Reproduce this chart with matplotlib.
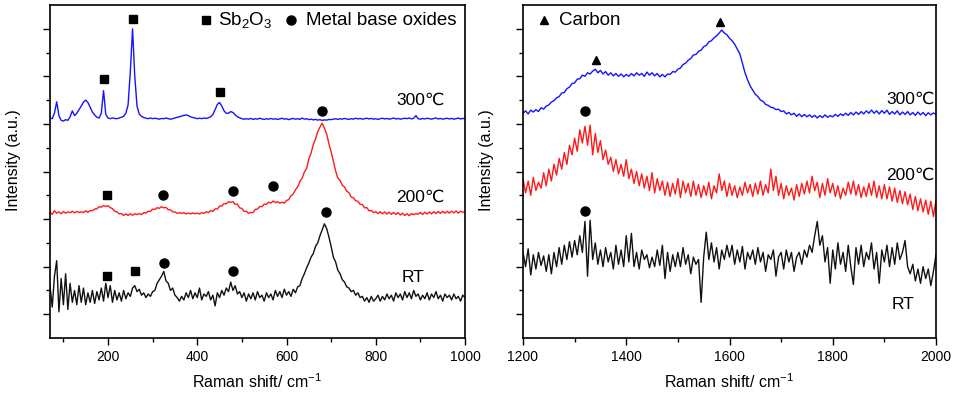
import numpy as np
import matplotlib
matplotlib.use("Agg")
import matplotlib.pyplot as plt
from matplotlib.ticker import NullFormatter

plt.rcParams['font.family'] = ['Liberation Sans', 'DejaVu Sans']
plt.rcParams['mathtext.fontset'] = 'custom'
plt.rcParams['mathtext.rm'] = 'Liberation Sans'

# ---------------- Left panel data (Raman shift 70-1000 cm-1, step 5) ----------------
left_start, left_step = 70, 5
left_300C = [
    9.25, 9.22, 9.45, 9.93, 9.35, 9.15, 9.12, 9.18, 9.15, 9.3,
    9.55, 9.35, 9.45, 9.6, 9.75, 9.92, 10.0, 9.9, 9.7, 9.5,
    9.38, 9.28, 9.25, 9.45, 10.4, 9.4, 9.25, 9.22, 9.25, 9.23,
    9.22, 9.25, 9.28, 9.32, 9.45, 9.8, 11.2, 13.0, 11.0, 9.75,
    9.42, 9.32, 9.27, 9.24, 9.22, 9.25, 9.22, 9.24, 9.22, 9.2,
    9.23, 9.22, 9.25, 9.22, 9.2, 9.22, 9.25, 9.28, 9.3, 9.33,
    9.36, 9.38, 9.35, 9.3, 9.27, 9.25, 9.22, 9.24, 9.22, 9.25,
    9.23, 9.26, 9.3, 9.4, 9.6, 9.82, 9.9, 9.75, 9.55, 9.45,
    9.45, 9.52, 9.48, 9.38, 9.3, 9.26, 9.22, 9.2, 9.22, 9.2,
    9.23, 9.19, 9.22, 9.2, 9.24, 9.21, 9.19, 9.22, 9.2, 9.23,
    9.2, 9.22, 9.19, 9.21, 9.24, 9.2, 9.22, 9.18, 9.21, 9.23,
    9.2, 9.22, 9.19, 9.25, 9.2, 9.22, 9.18, 9.2, 9.17, 9.19,
    9.16, 9.18, 9.15, 9.17, 9.16, 9.19, 9.18, 9.2, 9.22, 9.19,
    9.22, 9.2, 9.23, 9.21, 9.19, 9.22, 9.2, 9.24, 9.21, 9.23,
    9.2, 9.22, 9.24, 9.21, 9.23, 9.2, 9.22, 9.19, 9.22, 9.24,
    9.21, 9.23, 9.2, 9.22, 9.25, 9.21, 9.23, 9.2, 9.22, 9.24,
    9.22, 9.25, 9.21, 9.24, 9.35, 9.22, 9.2, 9.23, 9.21, 9.24,
    9.22, 9.2, 9.23, 9.25, 9.21, 9.23, 9.2, 9.22, 9.24, 9.21,
    9.23, 9.2, 9.22, 9.25, 9.21, 9.23, 9.22,
]
left_200C = [
    5.3, 5.2, 5.35, 5.25, 5.3, 5.22, 5.32, 5.25, 5.3, 5.27,
    5.33, 5.26, 5.32, 5.28, 5.3, 5.27, 5.35, 5.28, 5.36, 5.35,
    5.42, 5.43, 5.52, 5.5, 5.57, 5.53, 5.56, 5.48, 5.44, 5.33,
    5.3, 5.22, 5.23, 5.15, 5.22, 5.15, 5.22, 5.16, 5.22, 5.19,
    5.23, 5.19, 5.27, 5.25, 5.33, 5.32, 5.42, 5.4, 5.48, 5.45,
    5.52, 5.47, 5.49, 5.39, 5.39, 5.3, 5.3, 5.24, 5.27, 5.24,
    5.27, 5.22, 5.25, 5.22, 5.26, 5.22, 5.25, 5.21, 5.27, 5.24,
    5.31, 5.27, 5.36, 5.32, 5.43, 5.42, 5.55, 5.55, 5.65, 5.64,
    5.73, 5.7, 5.73, 5.62, 5.63, 5.47, 5.45, 5.32, 5.33, 5.24,
    5.28, 5.27, 5.41, 5.42, 5.53, 5.52, 5.63, 5.62, 5.71, 5.67,
    5.76, 5.69, 5.73, 5.67, 5.71, 5.67, 5.78, 5.82, 5.98, 6.05,
    6.23, 6.35, 6.58, 6.72, 6.98, 7.12, 7.53, 7.77, 8.13, 8.37,
    8.68, 8.87, 9.03, 8.82, 8.58, 8.17, 7.83, 7.42, 7.03, 6.72,
    6.63, 6.42, 6.35, 6.17, 6.11, 5.92, 5.9, 5.77, 5.75, 5.62,
    5.61, 5.47, 5.48, 5.35, 5.36, 5.27, 5.31, 5.23, 5.31, 5.22,
    5.3, 5.21, 5.29, 5.2, 5.28, 5.19, 5.27, 5.17, 5.25, 5.15,
    5.23, 5.14, 5.23, 5.19, 5.23, 5.2, 5.28, 5.19, 5.29, 5.21,
    5.3, 5.22, 5.31, 5.23, 5.32, 5.24, 5.33, 5.25, 5.33, 5.25,
    5.33, 5.26, 5.34, 5.25, 5.33, 5.29, 5.3,
]
left_RT = [
    2.2, 1.3, 2.6, 3.25, 1.1, 2.5, 1.4, 2.7, 1.2, 2.3,
    1.5, 2.0, 1.4, 2.2, 1.5, 2.1, 1.4, 1.9, 1.5, 2.0,
    1.45, 1.95, 1.6, 2.1, 1.55, 2.3, 1.7, 2.2, 1.5, 2.0,
    1.6, 1.9, 1.55, 2.0, 1.65, 1.9, 1.75, 2.1, 2.2, 1.95,
    2.05, 1.8, 1.9, 1.7, 1.85, 1.75, 1.95, 2.0, 2.3, 2.45,
    2.6, 2.8, 2.4, 2.3, 2.0, 2.1, 1.8, 1.7, 1.55, 1.75,
    1.6, 1.9, 1.7, 2.0, 1.65, 1.9, 1.7, 2.1, 1.6, 1.85,
    1.75, 1.95, 1.6, 1.8, 1.35, 1.9, 1.7, 2.0, 1.8, 2.1,
    1.95, 2.35, 2.0, 2.2, 1.85, 1.95, 1.7, 1.9, 1.55, 1.85,
    1.65, 1.9, 1.6, 1.95, 1.7, 1.8, 1.55, 1.9, 1.7, 1.85,
    1.6, 2.0, 1.75, 1.95, 1.7, 2.05, 1.8, 1.95, 1.75, 2.05,
    1.9, 2.15, 2.2, 2.5, 2.7, 2.95, 3.15, 3.4, 3.55, 3.85,
    4.0, 4.3, 4.55, 4.8, 4.6, 4.25, 3.85, 3.4, 3.2, 2.85,
    2.7, 2.45, 2.35, 2.15, 2.1, 1.95, 2.0, 1.8, 1.9, 1.7,
    1.75, 1.55, 1.7, 1.5, 1.75, 1.55, 1.65, 1.8, 1.55, 1.75,
    1.6, 1.85, 1.65, 1.8, 1.55, 1.9, 1.7, 1.85, 1.6, 1.95,
    1.7, 1.9, 1.65, 2.0, 1.75, 1.85, 1.6, 1.8, 1.65, 1.9,
    1.6, 1.85, 1.7, 1.95, 1.65, 1.8, 1.55, 1.85, 1.7, 1.8,
    1.6, 1.85, 1.65, 1.75, 1.55, 1.8, 1.7,
]

# ---------------- Right panel data (Raman shift 1200-2000 cm-1, step 5) ----------------
right_start, right_step = 1200, 5
right_300C = [
    9.45, 9.55, 9.42, 9.58, 9.5, 9.6, 9.52, 9.68, 9.62, 9.75,
    9.8, 9.92, 9.98, 10.1, 10.15, 10.3, 10.32, 10.48, 10.55, 10.7,
    10.72, 10.88, 10.9, 11.05, 11.0, 11.15, 11.1, 11.22, 11.3, 11.15,
    11.25, 11.1, 11.2, 11.05, 11.15, 11.02, 11.12, 11.0, 11.1, 10.98,
    11.08, 11.0, 11.12, 11.02, 11.15, 11.05, 11.12, 11.0, 11.18, 11.05,
    11.15, 11.02, 11.12, 10.98, 11.08, 10.98, 11.1, 11.08, 11.2, 11.18,
    11.3, 11.35, 11.5, 11.55, 11.68, 11.75, 11.9, 11.92, 12.05, 12.1,
    12.25, 12.3, 12.45, 12.5, 12.62, 12.7, 12.82, 12.95, 12.82, 12.75,
    12.6, 12.5, 12.35, 12.15, 11.95, 11.55, 11.15, 10.85, 10.6, 10.42,
    10.25, 10.15, 10.0, 9.95, 9.82, 9.78, 9.7, 9.68, 9.6, 9.62,
    9.52, 9.55, 9.42, 9.48, 9.38, 9.45, 9.32, 9.42, 9.3, 9.4,
    9.3, 9.38, 9.28, 9.36, 9.25, 9.35, 9.27, 9.38, 9.28, 9.35,
    9.3, 9.4, 9.32, 9.42, 9.35, 9.45, 9.36, 9.48, 9.38, 9.5,
    9.4, 9.52, 9.42, 9.55, 9.45, 9.58, 9.45, 9.55, 9.42, 9.56,
    9.45, 9.58, 9.4, 9.52, 9.42, 9.55, 9.38, 9.5, 9.4, 9.52,
    9.38, 9.48, 9.36, 9.5, 9.38, 9.48, 9.35, 9.47, 9.38, 9.46,
    9.4,
]
right_200C = [
    6.7, 6.1, 6.6, 6.0, 6.75, 6.2, 6.55, 6.3, 6.95, 6.4,
    7.1, 6.6, 7.3, 6.85, 7.55, 7.1, 7.8, 7.3, 8.1, 7.7,
    8.4, 7.85, 8.75, 8.2, 8.9, 8.1, 8.95, 7.7, 8.6, 7.8,
    8.3, 7.5, 7.9, 7.3, 7.6, 7.0, 7.5, 6.9, 7.3, 6.8,
    7.5, 6.7, 7.1, 6.5, 7.0, 6.4, 6.9, 6.3, 6.8, 6.2,
    6.95, 6.1, 6.7, 6.2, 6.6, 6.0, 6.55, 5.95, 6.5, 6.05,
    6.7, 5.9, 6.6, 6.1, 6.5, 5.95, 6.6, 6.0, 6.45, 5.9,
    6.4, 6.0, 6.55, 5.85, 6.4, 6.1, 6.9, 6.2, 6.6, 5.95,
    6.5, 6.0, 6.4, 5.9, 6.35, 6.0, 6.55, 6.1, 6.45, 5.95,
    6.5, 6.05, 6.6, 6.0, 6.45, 6.1, 7.1, 6.2, 6.8, 6.0,
    6.5, 5.85, 6.4, 6.0, 6.3, 5.8, 6.45, 5.95, 6.5, 6.05,
    6.6, 6.1, 6.8, 6.2, 6.55, 5.9, 6.5, 6.0, 6.7, 6.1,
    6.5, 5.95, 6.4, 5.85, 6.3, 6.0, 6.55, 6.05, 6.6, 6.0,
    6.45, 5.9, 6.35, 5.95, 6.5, 6.0, 6.6, 5.9, 6.4, 5.85,
    6.45, 5.85, 6.35, 5.75, 6.3, 5.7, 6.2, 5.65, 6.15, 5.6,
    6.05, 5.4, 5.95, 5.35, 5.85, 5.3, 5.8, 5.2, 5.75, 5.1,
    5.8,
]
right_RT = [
    3.6, 3.0, 3.75, 2.65, 3.5, 2.9, 3.6, 3.05, 3.45, 2.8,
    3.5, 2.7, 3.6, 3.0, 3.8, 3.1, 3.9, 3.3, 4.05, 3.4,
    4.1, 3.5, 4.3, 3.6, 4.9, 2.6, 4.95, 3.3, 4.0, 3.1,
    3.7, 3.0, 3.8, 3.2, 3.6, 2.9, 3.9, 3.1, 3.7, 3.0,
    4.3, 3.2, 4.4, 3.0, 3.6, 2.9, 3.7, 3.3, 3.5, 2.95,
    3.4, 3.0, 3.7, 3.05, 3.9, 2.5, 3.6, 2.8, 3.5, 3.0,
    3.6, 3.0, 3.8, 3.1, 3.5, 2.7, 3.4, 3.1, 3.3, 1.5,
    3.4, 4.45, 3.3, 4.0, 3.2, 3.8, 2.9, 3.7, 3.3, 3.9,
    3.4, 3.9, 3.1, 3.7, 3.2, 3.85, 2.9, 3.6, 3.3, 3.7,
    3.1, 3.8, 3.2, 3.6, 2.8, 3.5, 3.3, 3.7, 2.6, 3.4,
    3.6, 2.9, 3.7, 3.2, 3.6, 2.8, 3.4, 3.6, 3.1, 3.7,
    3.4, 3.9, 3.6, 4.3, 4.9, 3.9, 4.3, 3.2, 3.8, 2.3,
    3.7, 2.9, 4.0, 3.1, 3.6, 2.8, 3.9, 3.0, 2.25, 3.8,
    3.1, 3.9, 3.0, 3.6, 3.3, 4.0, 2.9, 3.6, 2.3, 3.7,
    3.2, 3.9, 3.0, 3.8, 3.1, 4.0, 3.3, 3.6, 4.1, 3.0,
    2.7, 3.1, 2.4, 2.9, 2.3, 3.0, 2.5, 2.9, 2.2, 2.8,
    3.5,
]

# ---------------- Peak annotation markers ----------------
left_sq_x = [255, 190, 450, 197, 197, 260]
left_sq_y = [13.4, 10.9, 10.35, 6.0, 2.6, 2.8]
left_ci_x = [680, 323, 479, 569, 689, 326, 480]
left_ci_y = [9.55, 6.0, 6.2, 6.4, 5.3, 3.15, 2.8]
right_tri_x = [1341, 1582]
right_tri_y = [11.7, 13.3]
right_ci_x = [1320, 1320]
right_ci_y = [9.55, 5.35]

series_labels = ['300\u2103', '200\u2103', 'RT']
left_label_pos = [(846, 10.0), (846, 5.92), (859, 2.56)]
right_label_pos = [(1903, 10.04), (1903, 6.85), (1915, 1.39)]

x_left = left_start + left_step * np.arange(len(left_300C))
x_right = right_start + right_step * np.arange(len(right_300C))

fig = plt.figure(figsize=(9.57, 3.99), dpi=100)
axL = fig.add_axes([50/957, 61/399, 415/957, 333/399])
axR = fig.add_axes([523/957, 61/399, 413/957, 333/399])

colors = ['#1414ff', '#ff1a1a', '#111111']

for ax, x, ys in [(axL, x_left, [left_300C, left_200C, left_RT]),
                  (axR, x_right, [right_300C, right_200C, right_RT])]:
    for y, c in zip(ys, colors):
        ax.plot(x, y, color=c, lw=1.0)
    ax.set_ylim(0, 14)
    ax.set_yticks([1, 3, 5, 7, 9, 11, 13])
    ax.set_yticks([2, 4, 6, 8, 10, 12], minor=True)
    ax.yaxis.set_major_formatter(NullFormatter())
    ax.tick_params(axis='both', which='major', direction='out', length=5, width=1.0, labelsize=10)
    ax.tick_params(axis='both', which='minor', direction='out', length=3, width=1.0)
    for s in ax.spines.values():
        s.set_linewidth(1.2)
    ax.set_xlabel('Raman shift/ cm$^{-1}$', fontsize=11.5, labelpad=6)
    ax.set_ylabel('Intensity (a.u.)', fontsize=11.5, labelpad=6)
    ax.yaxis.set_label_coords(-0.07, 0.535)

axL.set_xlim(70, 1000)
axL.set_xticks([200, 400, 600, 800, 1000])
axL.set_xticks([100, 300, 500, 700, 900], minor=True)
axR.set_xlim(1200, 2000)
axR.set_xticks([1200, 1400, 1600, 1800, 2000])
axR.set_xticks([1300, 1500, 1700, 1900], minor=True)

ms = 6.5
axL.plot(left_sq_x, left_sq_y, 's', color='black', ms=ms*0.95, ls='none')
axL.plot(left_ci_x, left_ci_y, 'o', color='black', ms=ms, ls='none')
axR.plot(right_tri_x, right_tri_y, '^', color='black', ms=ms*0.9, ls='none')
axR.plot(right_ci_x, right_ci_y, 'o', color='black', ms=ms, ls='none')

for (tx, ty), lab in zip(left_label_pos, series_labels):
    axL.text(tx, ty, lab, fontsize=12.5, va='center', ha='left')
for (tx, ty), lab in zip(right_label_pos, series_labels):
    axR.text(tx, ty, lab, fontsize=12.5, va='center', ha='left')

# Legend-like keys
axL.plot([0.375], [0.955], 's', color='black', ms=ms*0.95, transform=axL.transAxes, clip_on=False)
axL.text(0.405, 0.952, 'Sb$_2$O$_3$', fontsize=13.5, va='center', ha='left', transform=axL.transAxes)
axL.plot([0.581], [0.955], 'o', color='black', ms=ms, transform=axL.transAxes, clip_on=False)
axL.text(0.617, 0.952, 'Metal base oxides', fontsize=13.5, va='center', ha='left', transform=axL.transAxes)
axR.plot([0.051], [0.955], '^', color='black', ms=ms*0.9, transform=axR.transAxes, clip_on=False)
axR.text(0.087, 0.952, 'Carbon', fontsize=13.5, va='center', ha='left', transform=axR.transAxes)

fig.savefig('out.png', dpi=100)
